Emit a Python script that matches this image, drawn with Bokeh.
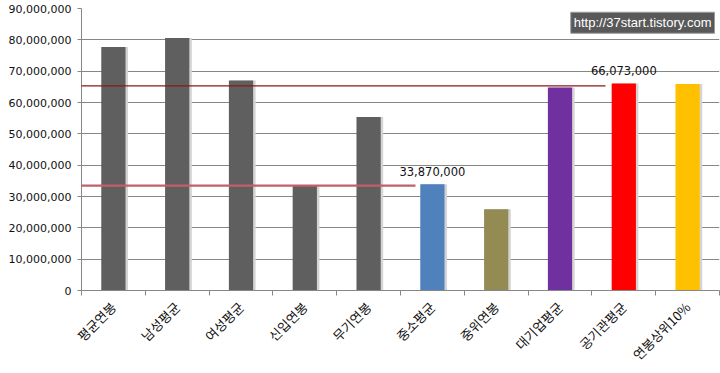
import math
from bokeh.plotting import figure
from bokeh.models import (Range1d, FixedTicker, NumeralTickFormatter, ColumnDataSource,
                          PolyAnnotation, Label)
from bokeh.embed import file_html
from bokeh.resources import INLINE
from bokeh.core.properties import value

categories = ["평균연봉", "남성평균", "여성평균", "신입연봉", "무기연봉",
              "중소평균", "중위연봉", "대기업평균", "공기관평균", "연봉상위10%"]
salaries = [77700000, 80600000, 67000000, 33400000, 55400000,
            33870000, 25900000, 64800000, 66073000, 65900000]
bar_colors = ["#5f5f5f", "#5f5f5f", "#5f5f5f", "#5f5f5f", "#5f5f5f",
              "#4f81bd", "#948a54", "#7030a0", "#ff0000", "#ffc000"]
value_labels = ["", "", "", "", "", "33,870,000", "", "", "66,073,000", ""]
ref_levels = [65300000, 33500000]
y_ticks = [0, 10000000, 20000000, 30000000, 40000000, 50000000,
           60000000, 70000000, 80000000, 90000000]
watermark = "http://37start.tistory.com"

n = len(categories)
centers = [i + 0.5 for i in range(n)]
bounds = [float(i) for i in range(n + 1)]

W, H = 720, 373
LEFT, TOP, BOTTOM, RIGHT = 81, 8, 83, 1
px = n / (W - LEFT - RIGHT)  # data units per pixel along x

p = figure(width=W, height=H, x_range=Range1d(0, n), y_range=Range1d(0, 90000000),
           output_backend="svg", toolbar_location=None,
           min_border_left=LEFT, min_border_top=TOP, min_border_bottom=BOTTOM,
           min_border_right=RIGHT)
p.outline_line_color = None
p.background_fill_color = "white"

src = ColumnDataSource(dict(x=centers, sx=[c + 2 * px for c in centers], top=salaries,
                            color=bar_colors, lab=value_labels))

bw = 0.38
p.vbar(x="sx", top="top", width=bw + 1 * px, bottom=0, source=src,
       fill_color="#d4d4d4", line_color=None)
p.vbar(x="x", top="top", width=bw, bottom=0, source=src,
       fill_color="color", line_color=None)

p.text(x="x", y="top", text="lab", source=src, y_offset=-8,
       text_align="center", text_baseline="bottom",
       text_font=value("DejaVu Sans"), text_font_size="11.5px", text_color="#111111")

x_start_upper = (11 - LEFT) * px
x_end_upper = (605 - LEFT) * px
x_start_lower = (8 - LEFT) * px
x_end_lower = (415 - LEFT) * px
p.add_layout(PolyAnnotation(xs=[x_start_upper, x_end_upper, x_end_upper, x_start_upper],
                            ys=[ref_levels[0]] * 4, fill_alpha=0,
                            line_color="#8b1a1a", line_alpha=1, line_width=1.2), "left")
p.add_layout(PolyAnnotation(xs=[x_start_lower, x_end_lower, x_end_lower, x_start_lower],
                            ys=[ref_levels[1]] * 4, fill_alpha=0,
                            line_color="#c0606c", line_alpha=1, line_width=2.2), "left")

p.yaxis.ticker = FixedTicker(ticks=y_ticks)
p.yaxis.formatter = NumeralTickFormatter(format="0,0")
p.yaxis.major_label_text_font = "DejaVu Sans"
p.yaxis.major_label_text_font_size = "11px"
p.yaxis.major_label_text_color = "#111111"
p.yaxis.major_tick_out = 4
p.yaxis.major_tick_in = 0
p.yaxis.minor_tick_line_color = None
p.yaxis.major_tick_line_color = "#868686"
p.yaxis.axis_line_color = "#868686"
p.yaxis.major_label_standoff = 6

p.xaxis.ticker = FixedTicker(ticks=centers, minor_ticks=bounds)
p.xaxis.major_label_overrides = {c: lab for c, lab in zip(centers, categories)}
p.xaxis.major_tick_line_color = None
p.xaxis.major_tick_out = 0
p.xaxis.major_tick_in = 0
p.xaxis.minor_tick_out = 5
p.xaxis.minor_tick_in = 0
p.xaxis.minor_tick_line_color = "#868686"
p.xaxis.axis_line_color = "#868686"
p.xaxis.major_label_orientation = math.pi / 4
p.xaxis.major_label_text_font = "Noto Sans CJK KR"
p.xaxis.major_label_text_font_size = "13px"
p.xaxis.major_label_text_color = "#111111"
p.xaxis.major_label_standoff = 9

p.xgrid.grid_line_color = None
p.ygrid.grid_line_color = "#868686"
p.ygrid.grid_line_width = 1

p.add_layout(Label(x=n - 5 * px, y=88800000, text=watermark,
                   text_align="right", text_baseline="top",
                   text_font="Liberation Sans", text_font_size="13px",
                   text_color="white", background_fill_color="#595959",
                   border_line_color="#9a9a9a", padding=3))

open("out.html", "w").write(file_html(p, INLINE))
